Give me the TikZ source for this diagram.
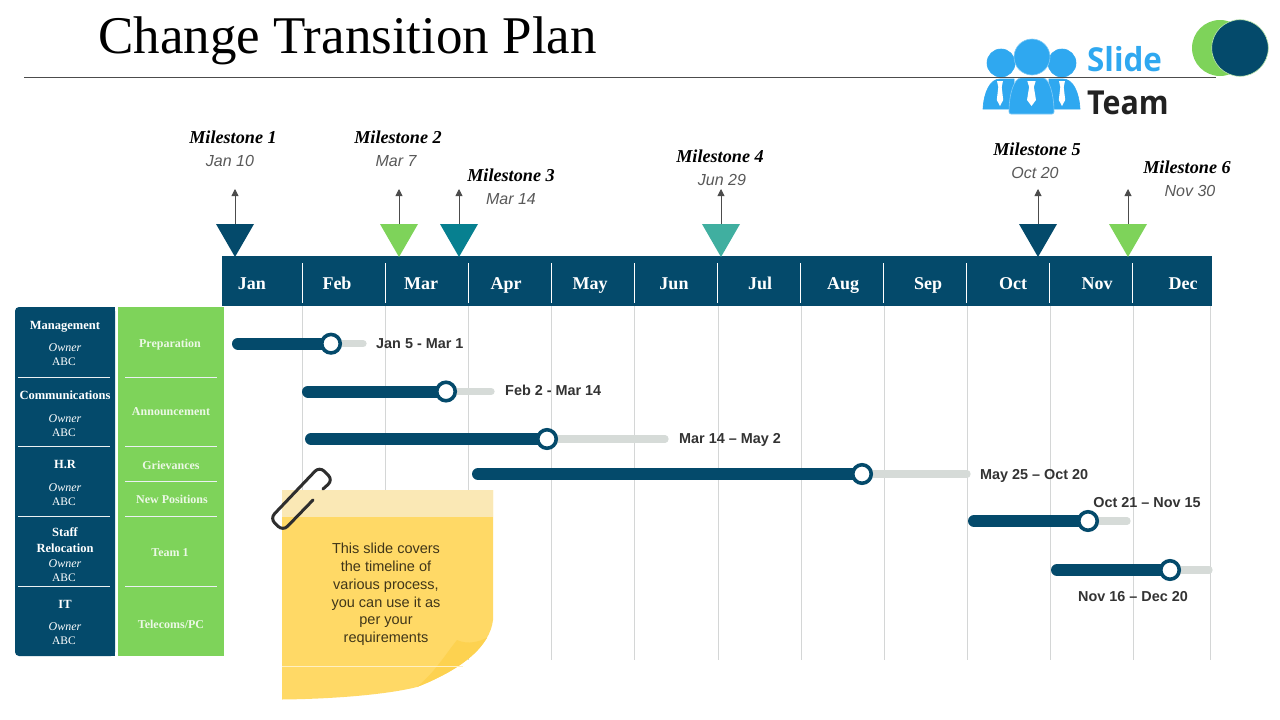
\documentclass[tikz,border=0pt]{standalone}
\usepackage{fontspec}
\setmainfont{Liberation Serif}
\setsansfont{Liberation Sans}
\newfontfamily\logofont{Open Sans}
\usetikzlibrary{arrows.meta}
\newcommand{\fsz}[1]{\fontsize{#1}{#1}\selectfont}
\definecolor{navy}{HTML}{044A6B}
\definecolor{leaf}{HTML}{7ED35A}
\definecolor{teal2}{HTML}{078090}
\definecolor{teal3}{HTML}{40AFA0}
\definecolor{sky}{HTML}{2FA8F0}
\definecolor{greyline}{HTML}{D4D6D6}
\definecolor{track}{HTML}{D6DBD8}
\definecolor{txt}{HTML}{333333}
\definecolor{note}{HTML}{FFD966}
\definecolor{noteband}{HTML}{FAE8B5}
\definecolor{notefold}{HTML}{FDD250}
\tikzset{
 x=1pt,y=-1pt,
 basetext/.style={anchor=base,inner sep=0pt},
 month/.style={basetext,text=white,font=\bfseries\fsz{18}},
 mstitle/.style={basetext,font=\bfseries\itshape\fsz{18.2},text=black},
 msdate/.style={basetext,font=\sffamily\itshape\fsz{16},text=black!65},
 msarrow/.style={draw=black!70,line width=0.9pt,-{Triangle[length=7pt,width=7pt]}},
 dept/.style={basetext,text=white,font=\bfseries\fsz{12.5}},
 own/.style={basetext,text=white,font=\itshape\fsz{12}},
 abc/.style={basetext,text=white,font=\fsz{11.5}},
 task/.style={basetext,text=white!85!leaf,font=\bfseries\fsz{12}},
 sepline/.style={draw=white!92!navy,line width=1pt},
 bar/.style={draw=navy,line width=12pt,line cap=round},
 trackline/.style={draw=track,line width=7.3pt,line cap=round},
 knob/.style={circle,draw=navy,fill=white,line width=3.6pt,minimum size=18.5pt,inner sep=0pt},
 datelabel/.style={text=txt,font=\sffamily\bfseries\fsz{14.4},inner sep=0pt},
 grid/.style={draw=greyline,line width=1pt},
 person/.style={fill=sky,draw=white!40!sky,line width=0.6pt},
}
\begin{document}
\begin{tikzpicture}
\useasboundingbox (0,0) rectangle (1280,720);
\fill[white] (0,0) rectangle (1280,720);
% logo
\fill[leaf] (1220,48) circle (28);
\fill[navy,draw=white!50!leaf,line width=0.6pt] (1240,48) circle (28.3);
\draw[person,draw=sky] (983,109) .. controls (984,92) and (990,79) .. (1000,79) -- (1014,79) -- (1014,109) -- cycle;
\draw[person,draw=sky] (1080,109) .. controls (1079,92) and (1073,79) .. (1063,79) -- (1049,79) -- (1049,109) -- cycle;
\draw[person,draw=sky] (1001,63) circle (14);
\draw[person,draw=sky] (1062,63) circle (14);
\draw[person,rounded corners=2pt] (1009,114) .. controls (1009,94) and (1014,78) .. (1023,78) -- (1041,78) .. controls (1049,78) and (1054,94) .. (1054,114) -- cycle;
\draw[person] (1032,57) circle (18);
\foreach \c/\w in {1000/1,1062/1,1031.5/1.4}{
 \fill[white] (\c-3*\w,81) -- (\c+3*\w,81) -- (\c+1.7*\w,87) -- (\c+3.2*\w,100) -- (\c,106) -- (\c-3.2*\w,100) -- (\c-1.7*\w,87) -- cycle;
}
\node[anchor=base west,inner sep=0pt,text=sky,xscale=0.95,font=\logofont\bfseries\fsz{33}] (slide) at (1087,71) {Slide};
\node[anchor=base west,inner sep=0pt,text=black!87,xscale=0.92,font=\logofont\bfseries\fsz{33}] (team) at (1087,114) {Team};
% title
\node[anchor=base west,inner sep=0pt,text=black,font=\fsz{53}] (title) at (98,53) {Change Transition Plan};
\coordinate (ruleL) at (24,77.5);
\coordinate (ruleR) at (1216,77.5);
\draw[draw=black!70,line width=1pt] (ruleL) -- (ruleR);
% grid
\foreach \x in {302,385,468,551,634,718,801,884,967,1050,1133,1210}{
 \coordinate (gt\x) at (\x,306);
 \coordinate (gb\x) at (\x,660);
 \draw[grid] (gt\x) -- (gb\x);
}
% month band
\fill[navy] (222,256) rectangle (1212,306);
\foreach \x in {302.5,385.5,468.5,551.5,634.5,717.5,800.5,883.5,966.5,1049.5,1132.5}{
 \draw[draw=white,line width=1pt] (\x,263) -- (\x,303);
}
\foreach \n/\x in {Jan/252,Feb/337,Mar/421,Apr/506,May/590,Jun/674,Jul/760,Aug/843,Sep/928,Oct/1013,Nov/1097,Dec/1183}{
 \node[month] (m\n) at (\x,289) {\n};
}
% milestones
\foreach \i/\a/\col in {1/235/navy,2/399/leaf,3/459/teal2,4/721/teal3,5/1038/navy,6/1128/leaf}{
 \fill[\col] (\a-19,224) -- (\a+19,224) -- (\a,257) -- cycle;
 \coordinate (tb\i) at (\a,224);
 \coordinate (tt\i) at (\a,189);
 \draw[msarrow] (tb\i) -- (tt\i);
}
\node[mstitle] (ms1) at (233,143) {Milestone 1};
\node[msdate] (md1) at (230,166) {Jan 10};
\node[mstitle] (ms2) at (398,143) {Milestone 2};
\node[msdate] (md2) at (396,166) {Mar 7};
\node[mstitle] (ms3) at (511,181) {Milestone 3};
\node[msdate] (md3) at (511,204) {Mar 14};
\node[mstitle] (ms4) at (720,162) {Milestone 4};
\node[msdate] (md4) at (722,185) {Jun 29};
\node[mstitle] (ms5) at (1037,155) {Milestone 5};
\node[msdate] (md5) at (1035,178) {Oct 20};
\node[mstitle] (ms6) at (1187,173) {Milestone 6};
\node[msdate] (md6) at (1190,196) {Nov 30};
% left panels
\fill[navy,rounded corners=4pt] (15,307) -- (115,307) -- (115,656) -- (15,656) -- cycle;
\fill[navy] (60,307) rectangle (115,656);
\fill[leaf] (118,307) rectangle (224,656);
\foreach \y in {377,446,516,586}{\draw[sepline] (18,\y) -- (110,\y);}
\foreach \y in {377,446,481,516,586}{\draw[sepline] (125,\y) -- (217,\y);}
\node[dept] (d1) at (65,329.5) {Management};
\node[own] (o1) at (65,351) {Owner};
\node[abc] (a1) at (64,365.5) {ABC};
\node[dept] (d2) at (65,399) {Communications};
\node[own] (o2) at (65,422) {Owner};
\node[abc] (a2) at (64,436) {ABC};
\node[dept] (d3) at (65,468) {H.R};
\node[own] (o3) at (65,491) {Owner};
\node[abc] (a3) at (64,505.5) {ABC};
\node[dept] (d4a) at (65,536) {Staff};
\node[dept] (d4b) at (65,552) {Relocation};
\node[own] (o4) at (65,567) {Owner};
\node[abc] (a4) at (64,581.5) {ABC};
\node[dept] (d5) at (65,608) {IT};
\node[own] (o5) at (65,630) {Owner};
\node[abc] (a5) at (64,644) {ABC};
\node[task] (t1) at (170,347) {Preparation};
\node[task] (t2) at (171,415) {Announcement};
\node[task] (t3) at (171,469) {Grievances};
\node[task] (t4) at (172,503) {New Positions};
\node[task] (t5) at (170,556) {Team 1};
\node[task] (t6) at (171,628) {Telecoms/PC};
% gantt bars
\foreach \i/\s/\k/\e/\y in {1/238/331/363/343.7,2/308/446/491/391.5,3/311/547/665/439,4/478/862/967/474,5/974/1088/1127/521,6/1057/1170/1209/570}{
 \coordinate (bs\i) at (\s,\y);
 \coordinate (be\i) at (\e,\y);
 \coordinate (kc\i) at (\k,\y);
 \draw[trackline] (kc\i) -- (be\i);
 \draw[bar] (bs\i) -- (kc\i);
 \node[knob] (k\i) at (kc\i) {};
}
\node[datelabel,anchor=base west] (l1) at (376,348) {Jan 5 - Mar 1};
\node[datelabel,anchor=base west] (l2) at (505,395) {Feb 2 - Mar 14};
\node[datelabel,anchor=base west] (l3) at (679,443) {Mar 14 – May 2};
\node[datelabel,anchor=base west] (l4) at (980,479) {May 25 – Oct 20};
\node[datelabel,anchor=base] (l5) at (1147,507) {Oct 21 – Nov 15};
\node[datelabel,anchor=base] (l6) at (1133,601) {Nov 16 – Dec 20};
% sticky note
\fill[note] (282,490) -- (493,490) -- (493,620) .. controls (490,645) and (465,668) .. (417,687) .. controls (385,695) and (330,699) .. (282,699.5) -- cycle;
\fill[noteband] (282,490) rectangle (493,517);
\begin{scope}
 \clip (282,490) -- (493,490) -- (493,620) .. controls (490,645) and (465,668) .. (417,687) .. controls (385,695) and (330,699) .. (282,699.5) -- cycle;
 \fill[notefold] (457,640) .. controls (468,645) and (480,642) .. (490,636) -- (500,700) -- (417,687) .. controls (435,672) and (445,655) .. (457,640) -- cycle;
\end{scope}
\draw[draw=white!60!note,line width=0.8pt] (282,666) -- (463,666);
\node[align=center,text=black!75!note,font=\sffamily\fontsize{14.5}{17.8}\selectfont] (notetext) at (386,594.5) {This slide covers\\the timeline of\\various process,\\you can use it as\\per your\\requirements};
% paper clip
\draw[draw=black!82,line width=3pt,line cap=round,rounded corners=6.5pt] (313,500) -- (283,531) -- (270,518.5) -- (319.5,466.5) -- (333,480) -- (323,489);
\end{tikzpicture}
\end{document}
